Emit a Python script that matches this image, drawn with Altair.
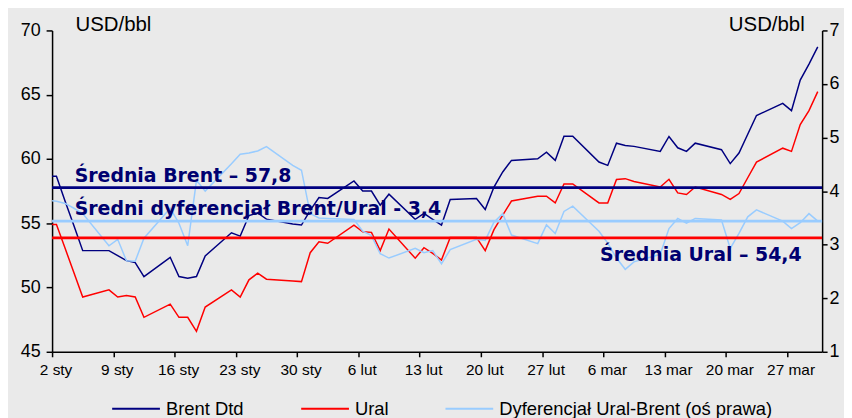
import pandas as pd
import altair as alt

# ---------------- data ----------------
dates = [
    "2007-01-01", "2007-01-02", "2007-01-03", "2007-01-04", "2007-01-05",
    "2007-01-08", "2007-01-09", "2007-01-10", "2007-01-11", "2007-01-12",
    "2007-01-15", "2007-01-16", "2007-01-17", "2007-01-18", "2007-01-19",
    "2007-01-22", "2007-01-23", "2007-01-24", "2007-01-25", "2007-01-26",
    "2007-01-29", "2007-01-30", "2007-01-31", "2007-02-01", "2007-02-02",
    "2007-02-05", "2007-02-06", "2007-02-07", "2007-02-08", "2007-02-09",
    "2007-02-12", "2007-02-13", "2007-02-14", "2007-02-15", "2007-02-16",
    "2007-02-19", "2007-02-20", "2007-02-21", "2007-02-22", "2007-02-23",
    "2007-02-26", "2007-02-27", "2007-02-28", "2007-03-01", "2007-03-02",
    "2007-03-05", "2007-03-06", "2007-03-07", "2007-03-08", "2007-03-09",
    "2007-03-12", "2007-03-13", "2007-03-14", "2007-03-15", "2007-03-16",
    "2007-03-19", "2007-03-20", "2007-03-21", "2007-03-22", "2007-03-23",
    "2007-03-26", "2007-03-27", "2007-03-28", "2007-03-29", "2007-03-30",
]
brent = [
    58.65, 58.65, 56.70, 54.80, 52.87,
    52.87, 52.48, 52.09, 51.94, 50.85,
    52.35, 50.85, 50.73, 50.85, 52.46,
    54.26, 54.00, 55.60, 55.80, 55.32,
    54.95, 54.86, 56.00, 57.00, 56.93,
    58.29, 57.51, 57.51, 56.40, 57.26,
    55.30, 55.76, 55.30, 54.86, 56.85,
    56.93, 56.07, 57.82, 58.99, 59.89,
    60.02, 60.53, 59.89, 61.77, 61.77,
    59.76, 59.50, 61.23, 61.05, 60.98,
    60.59, 61.75, 60.87, 60.59, 61.23,
    60.72, 59.64, 60.46, 61.92, 63.38,
    64.33, 63.76, 66.14, 67.38, 68.72,
]
ural = [
    54.91, 54.91, 53.03, 51.14, 49.26,
    49.82, 49.26, 49.38, 49.26, 47.68,
    48.71, 47.68, 47.68, 46.59, 48.48,
    49.82, 49.26, 50.60, 51.11, 50.65,
    50.50, 50.46, 52.71, 53.56, 53.44,
    54.86, 54.34, 54.29, 52.87, 54.55,
    52.28, 53.10, 52.66, 52.14, 53.90,
    53.90, 52.87, 54.50, 55.63, 56.73,
    57.10, 57.10, 56.58, 58.06, 58.06,
    56.58, 56.58, 58.40, 58.47, 58.25,
    57.82, 58.42, 57.36, 57.24, 57.82,
    57.24, 56.85, 57.31, 58.54, 59.76,
    60.84, 60.59, 62.68, 63.76, 65.24,
]
spread = [
    3.83, 3.81, 3.77, 3.68, 3.58,
    2.98, 3.10, 2.70, 2.69, 3.12,
    3.68, 3.40, 2.98, 4.20, 4.00,
    4.51, 4.69, 4.71, 4.75, 4.83,
    4.48, 4.39, 3.58, 3.50, 3.49,
    3.47, 3.25, 3.17, 2.83, 2.75,
    2.93, 2.85, 2.89, 2.64, 2.91,
    3.10, 3.08, 3.42, 3.58, 3.18,
    3.02, 3.37, 3.21, 3.62, 3.72,
    3.25, 3.03, 2.75, 2.54, 2.68,
    2.82, 3.30, 3.49, 3.40, 3.49,
    3.46, 2.93, 3.21, 3.52, 3.65,
    3.44, 3.30, 3.41, 3.58, 3.44,
]

series_names = ["Brent Dtd", "Ural", "Dyferencjał Ural-Brent (oś prawa)"]
series_colors = ["#000080", "#FF0000", "#99CCFF"]

mean_left_names = ["Brent Dtd", "Ural"]
mean_left_values = [57.77, 53.86]
mean_right_names = ["Dyferencjał Ural-Brent (oś prawa)"]
mean_right_values = [3.44]

tick_days = [0, 7, 14, 21, 28, 35, 42, 49, 56, 63, 70, 77, 84]
tick_labels = ["2 sty", "9 sty", "16 sty", "23 sty", "30 sty", "6 lut", "13 lut",
               "20 lut", "27 lut", "6 mar", "13 mar", "20 mar", "27 mar"]

annotations = ["Średnia Brent – 57,8", "Średni dyferencjał Brent/Ural - 3,4", "Średnia Ural – 54,4"]
ann_day = [2.58, 2.58, 62.62]
ann_value = [58.21, 55.67, 52.07]

# ---------------- tables ----------------
t0 = pd.Timestamp("2007-01-02")
day = (pd.to_datetime(pd.Series(dates)) - t0).dt.days + 0.5

left_df = pd.concat([
    pd.DataFrame({"day": day, "value": brent, "series": "Brent Dtd"}),
    pd.DataFrame({"day": day, "value": ural, "series": "Ural"}),
], ignore_index=True)
right_df = pd.DataFrame({"day": day, "value": spread, "series": series_names[2]})
mean_left_df = pd.DataFrame({"series": mean_left_names, "value": mean_left_values})
mean_right_df = pd.DataFrame({"series": mean_right_names, "value": mean_right_values})
ann_df = pd.DataFrame({"label": annotations, "day": ann_day, "value": ann_value})

FONT = "Liberation Sans"

color_scale = alt.Scale(domain=series_names, range=series_colors)
legend = alt.Legend(
    orient="none", legendX=59.4, legendY=355, direction="horizontal", title=None,
    symbolType="stroke", symbolSize=2304, symbolStrokeWidth=2,
    labelFont=FONT, labelFontSize=18.5, labelColor="black", labelLimit=500,
    labelOffset=5, columnPadding=53,
)
color = alt.Color("series:N", scale=color_scale, legend=legend)

label_expr = ("{" + ",".join(f"'{d}':'{t}'" for d, t in zip(tick_days, tick_labels))
              + "}[''+datum.value]")
x_axis = alt.Axis(values=tick_days, labelExpr=label_expr, title=None, grid=False)
x_scale = alt.Scale(domain=[0, 88], nice=False, zero=False)
X_main = alt.X("day:Q", scale=x_scale, axis=x_axis)

left_axis = alt.Axis(
    orient="left", values=[45, 50, 55, 60, 65, 70], grid=False, title="USD/bbl", titleAngle=0,
    titleX=23, titleY=0, titleAlign="left", titleBaseline="alphabetic",
    titleFont=FONT, titleFontSize=20.5, titleFontWeight="normal", titleColor="black",
    labelFont=FONT, labelFontSize=18, labelColor="black", labelPadding=6,
    tickSize=6, tickWidth=1.5, tickColor="black", domainColor="black", domainWidth=1.5,
)
right_axis = alt.Axis(
    orient="right", values=[1, 2, 3, 4, 5, 6, 7], grid=False, title="USD/bbl", titleAngle=0,
    titleX=-18, titleY=0, titleAlign="right", titleBaseline="alphabetic",
    titleFont=FONT, titleFontSize=20.5, titleFontWeight="normal", titleColor="black",
    labelFont=FONT, labelFontSize=18, labelColor="black", labelPadding=2,
    tickSize=5, tickWidth=1.5, tickColor="black", domainColor="black", domainWidth=1.5,
)
left_scale = alt.Scale(domain=[45, 70], nice=False, zero=False)
right_scale = alt.Scale(domain=[1, 7], nice=False, zero=False)

lines_left = alt.Chart(left_df).mark_line(strokeWidth=1.5, clip=True).encode(
    x=X_main, y=alt.Y("value:Q", scale=left_scale, axis=left_axis),
    color=color, detail="series:N")
line_right = alt.Chart(right_df).mark_line(strokeWidth=1.5, clip=True).encode(
    x=X_main, y=alt.Y("value:Q", scale=right_scale, axis=right_axis), color=color)
mean_left = alt.Chart(mean_left_df).mark_rule(strokeWidth=2.8).encode(
    x=alt.value(0), x2=alt.value(774),
    y=alt.Y("value:Q", scale=left_scale, axis=None), color=color)
mean_right = alt.Chart(mean_right_df).mark_rule(strokeWidth=2.8).encode(
    x=alt.value(0), x2=alt.value(774),
    y=alt.Y("value:Q", scale=right_scale, axis=None), color=color)
text_layer = alt.Chart(ann_df).mark_text(
    font="DejaVu Sans", fontWeight="bold", fontSize=19, color="#000070",
    align="left", baseline="alphabetic",
).encode(
    x=X_main,
    y=alt.Y("value:Q", scale=left_scale, axis=None),
    text="label:N",
)

chart = alt.layer(lines_left, line_right, mean_left, mean_right, text_layer).resolve_scale(
    y="independent"
).properties(
    width=774, height=323, background="#EAEAEA",
    padding={"left": 44.3, "top": 21.5, "right": 22, "bottom": 66},
    autosize=alt.AutoSizeParams(type="none"),
).configure_view(stroke=None).configure_axisX(
    tickSize=5, tickWidth=1.5, tickColor="black", domainColor="black", domainWidth=1.5,
    labelFont=FONT, labelFontSize=15.5, labelColor="black", labelPadding=6,
    labelOffset=3.5, labelAngle=0, labelFlush=False,
)

chart.save("out.html", embed_options={"renderer": "svg", "actions": False})
